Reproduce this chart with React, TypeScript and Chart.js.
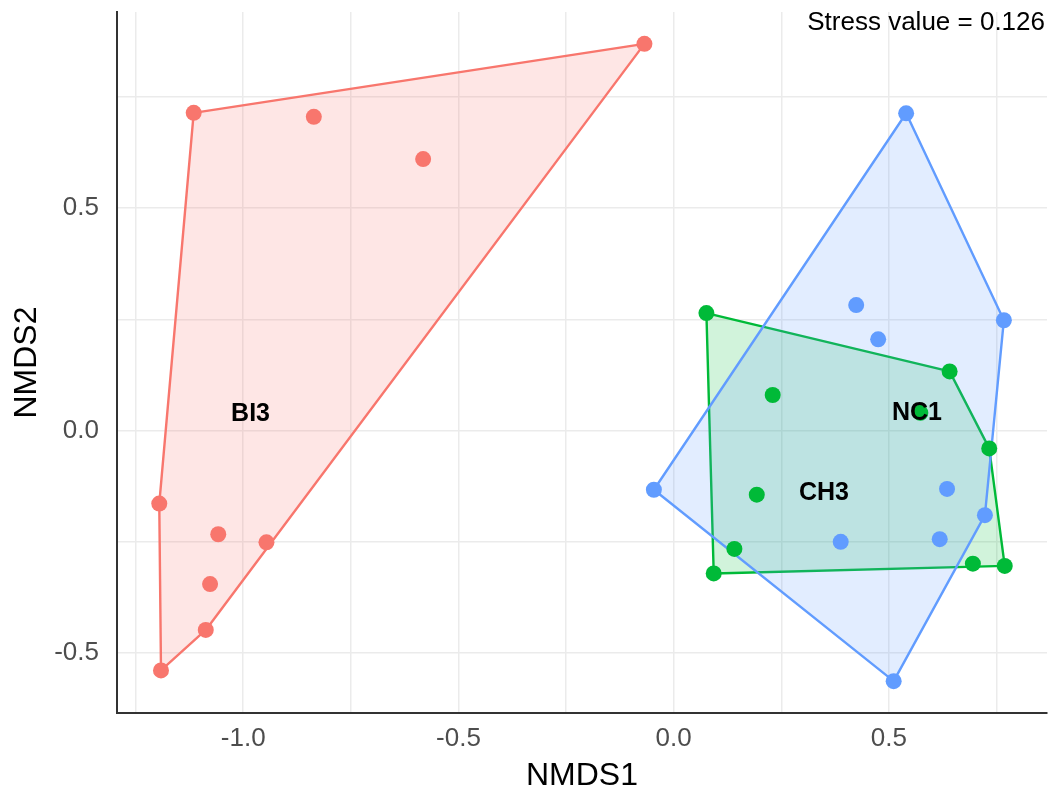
import { useEffect, useRef } from "react";
import { Chart, registerables } from "chart.js";

Chart.register(...registerables);

// NMDS ordination scores per site group
const groupNames = ["BI3", "CH3", "NC1"];
const groupColors = ["#F8766D", "#00BA38", "#619CFF"];

const bi3X = [-0.068, -1.115, -0.836, -0.582, -1.195, -1.058, -0.946, -1.077, -1.087, -1.191];
const bi3Y = [0.869, 0.714, 0.705, 0.61, -0.164, -0.233, -0.251, -0.345, -0.448, -0.539];

const ch3X = [0.076, 0.641, 0.23, 0.573, 0.733, 0.193, 0.141, 0.093, 0.695, 0.769];
const ch3Y = [0.264, 0.133, 0.08, 0.04, -0.04, -0.144, -0.266, -0.321, -0.299, -0.304];

const nc1X = [0.54, 0.424, 0.475, 0.767, -0.046, 0.635, 0.723, 0.388, 0.618, 0.511];
const nc1Y = [0.713, 0.282, 0.205, 0.248, -0.133, -0.131, -0.19, -0.25, -0.244, -0.563];

// group label positions (NMDS1, NMDS2)
const labelX = [-0.983, 0.349, 0.565];
const labelY = [0.037, -0.14, 0.04];

// grid lines (major + minor) and their labels
const xGridValues = [-1.25, -1.0, -0.75, -0.5, -0.25, 0, 0.25, 0.5, 0.75];
const xTickLabels = ["", "-1.0", "", "-0.5", "", "0.0", "", "0.5", ""];
const yGridValues = [-0.5, -0.25, 0, 0.25, 0.5, 0.75];
const yTickLabels = ["-0.5", "", "0.0", "", "0.5", ""];

const stressText = "Stress value = 0.126";
const xTitle = "NMDS1";
const yTitle = "NMDS2";

const FONT = "'Liberation Sans', Arial, Helvetica, sans-serif";

type Pt = { x: number; y: number };

function zip(xs: number[], ys: number[]): Pt[] {
  return xs.map((x, i) => ({ x, y: ys[i] }));
}

// Andrew's monotone chain convex hull, returned as a closed ring
function convexHull(points: Pt[]): Pt[] {
  const p = [...points].sort((a, b) => (a.x === b.x ? a.y - b.y : a.x - b.x));
  const cross = (o: Pt, a: Pt, b: Pt) => (a.x - o.x) * (b.y - o.y) - (a.y - o.y) * (b.x - o.x);
  const lower: Pt[] = [];
  for (const pt of p) {
    while (lower.length >= 2 && cross(lower[lower.length - 2], lower[lower.length - 1], pt) <= 0) lower.pop();
    lower.push(pt);
  }
  const upper: Pt[] = [];
  for (let i = p.length - 1; i >= 0; i--) {
    const pt = p[i];
    while (upper.length >= 2 && cross(upper[upper.length - 2], upper[upper.length - 1], pt) <= 0) upper.pop();
    upper.push(pt);
  }
  upper.pop();
  lower.pop();
  const ring = lower.concat(upper);
  ring.push({ ...ring[0] });
  return ring;
}

function withAlpha(hex: string, a: number): string {
  const n = parseInt(hex.slice(1), 16);
  return `rgba(${(n >> 16) & 255}, ${(n >> 8) & 255}, ${n & 255}, ${a})`;
}

// ggplot-style 5% expansion of the data range
function expandedRange(values: number[]): [number, number] {
  const lo = Math.min(...values);
  const hi = Math.max(...values);
  const pad = (hi - lo) * 0.05;
  return [lo - pad, hi + pad];
}

export default function App() {
  const canvasRef = useRef<HTMLCanvasElement | null>(null);

  useEffect(() => {
    document.body.style.margin = "0";
    const canvas = canvasRef.current;
    if (!canvas) return;

    const groupPoints = [zip(bi3X, bi3Y), zip(ch3X, ch3Y), zip(nc1X, nc1Y)];
    const [xMin, xMax] = expandedRange([...bi3X, ...ch3X, ...nc1X]);
    const [yMin, yMax] = expandedRange([...bi3Y, ...ch3Y, ...nc1Y]);

    const pointSets = groupPoints.map((pts, i) => ({
      type: "scatter" as const,
      label: groupNames[i],
      data: pts,
      pointRadius: 8,
      pointHoverRadius: 8,
      pointBackgroundColor: groupColors[i],
      pointBorderWidth: 0,
      borderColor: groupColors[i],
      order: 0,
    }));

    const hullSets = groupPoints.map((pts, i) => ({
      type: "line" as const,
      label: groupNames[i] + " hull",
      data: convexHull(pts),
      borderColor: groupColors[i],
      backgroundColor: withAlpha(groupColors[i], 0.18),
      borderWidth: 2.4,
      borderJoinStyle: "round" as const,
      pointRadius: 0,
      pointHoverRadius: 0,
      tension: 0,
      fill: "shape" as const,
      // first group drawn lowest, last on top
      order: 3 - i,
    }));

    const textPlugin = {
      id: "nmdsText",
      afterDraw(chart: any) {
        const ctx = chart.ctx as CanvasRenderingContext2D;
        const xs = chart.scales.x;
        const ys = chart.scales.y;
        const area = chart.chartArea;
        ctx.save();
        ctx.fillStyle = "#000000";
        ctx.font = `bold 25px ${FONT}`;
        ctx.textAlign = "center";
        ctx.textBaseline = "middle";
        groupNames.forEach((name, i) => {
          ctx.fillText(name, xs.getPixelForValue(labelX[i]), ys.getPixelForValue(labelY[i]));
        });

        ctx.font = `26px ${FONT}`;
        ctx.fillStyle = "#000000";
        ctx.textAlign = "right";
        ctx.fillText(stressText, area.right - 2, area.top + 11);

        ctx.fillStyle = "#000000";
        ctx.font = `32px ${FONT}`;
        ctx.textAlign = "center";
        ctx.fillText(xTitle, (area.left + area.right) / 2, 776);

        ctx.translate(27, (area.top + area.bottom) / 2);
        ctx.rotate(-Math.PI / 2);
        ctx.fillText(yTitle, 0, 0);
        ctx.restore();
      },
    };

    const chart = new Chart(canvas, {
      type: "scatter",
      data: { datasets: [...pointSets, ...hullSets] as any },
      options: {
        responsive: false,
        animation: false,
        events: [],
        layout: { autoPadding: false, padding: { top: 12, right: 3, left: 0, bottom: 0 } },
        plugins: {
          legend: { display: false },
          tooltip: { enabled: false },
          title: { display: false },
        },
        scales: {
          x: {
            type: "linear",
            min: xMin,
            max: xMax,
            bounds: "data",
            afterFit: (s: any) => {
              s.height = 77;
              s.paddingLeft = 0;
              s.paddingRight = 0;
            },
            afterBuildTicks: (s: any) => {
              s.ticks = xGridValues.map((v) => ({ value: v }));
            },
            grid: { color: "#ebebeb", lineWidth: 1.5, drawTicks: false },
            border: { display: true, color: "#333333", width: 2 },
            ticks: {
              autoSkip: false,
              maxRotation: 0,
              padding: 10,
              color: "#4d4d4d",
              font: { family: FONT, size: 26 },
              callback: (_v: any, i: number) => xTickLabels[i],
            },
          },
          y: {
            type: "linear",
            min: yMin,
            max: yMax,
            bounds: "data",
            afterFit: (s: any) => {
              s.width = 117;
              s.paddingTop = 0;
              s.paddingBottom = 0;
            },
            afterBuildTicks: (s: any) => {
              s.ticks = yGridValues.map((v) => ({ value: v }));
            },
            grid: { color: "#ebebeb", lineWidth: 1.5, drawTicks: false },
            border: { display: true, color: "#333333", width: 2 },
            ticks: {
              autoSkip: false,
              padding: 18,
              color: "#4d4d4d",
              font: { family: FONT, size: 26 },
              callback: (_v: any, i: number) => yTickLabels[i],
            },
          },
        },
      },
      plugins: [textPlugin],
    });

    return () => chart.destroy();
  }, []);

  return (
    <div style={{ width: 1050, height: 790, background: "#ffffff" }}>
      <canvas ref={canvasRef} width={1050} height={790} style={{ display: "block" }} />
    </div>
  );
}
